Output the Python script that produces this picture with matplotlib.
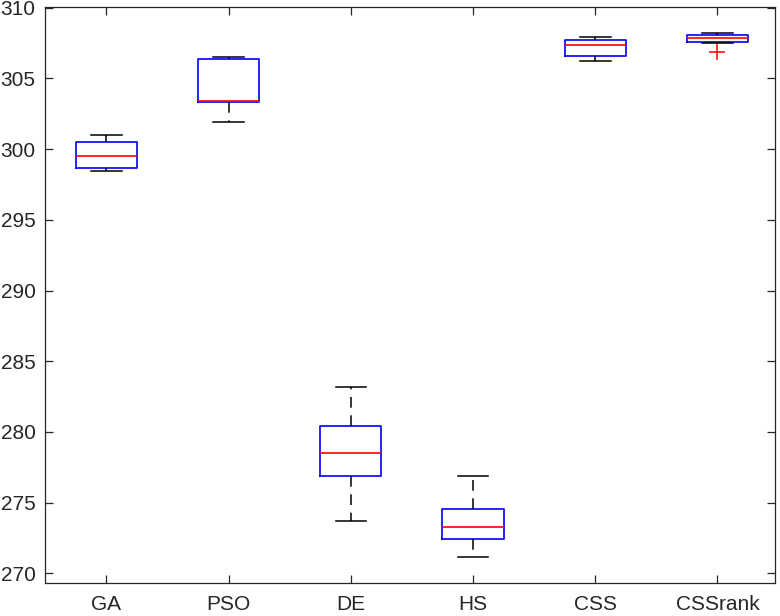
import matplotlib
matplotlib.use("Agg")
import matplotlib.pyplot as plt

plt.rcParams['font.family'] = ['Liberation Sans', 'DejaVu Sans']

labels = ["GA", "PSO", "DE", "HS", "CSS", "CSSrank"]
whislo = [298.46, 301.94, 273.68, 271.16, 306.26, 307.48]
q1 = [298.67, 303.32, 276.85, 272.41, 306.61, 307.60]
med = [299.54, 303.37, 278.50, 273.28, 307.37, 307.83]
q3 = [300.50, 306.35, 280.43, 274.53, 307.72, 308.05]
whishi = [301.00, 306.54, 283.15, 276.90, 307.91, 308.19]
fliers = [[], [], [], [], [], [306.90]]

stats = []
for i in range(len(labels)):
    stats.append(dict(label=labels[i], whislo=whislo[i], q1=q1[i], med=med[i],
                      q3=q3[i], whishi=whishi[i], fliers=fliers[i]))

fig = plt.figure(figsize=(7.8, 6.16), dpi=100)
ax = fig.add_axes([0.058, 0.0536, 0.9355, 0.9355])

ax.bxp(stats, widths=0.5, showfliers=True,
       boxprops=dict(color="blue", linewidth=1.2),
       medianprops=dict(color="red", linewidth=1.2),
       whiskerprops=dict(color="black", linewidth=1.1, linestyle=(0, (7, 5))),
       capprops=dict(color="black", linewidth=1.1),
       flierprops=dict(marker="+", markeredgecolor="red", markersize=11,
                       markeredgewidth=1.1, linestyle="none"))

ax.set_xlim(0.5, 6.47)
ax.set_ylim(269.32, 310.07)
ax.set_yticks(range(270, 311, 5))

for s in ax.spines.values():
    s.set_color("#262626")
    s.set_linewidth(0.9)
ax.tick_params(direction="in", top=True, right=True, length=6, width=0.9,
               color="#262626", labelsize=15, labelcolor="#262626")
ax.tick_params(axis="y", pad=7)
ax.tick_params(axis="x", pad=9)

fig.savefig("out.png", dpi=100)
